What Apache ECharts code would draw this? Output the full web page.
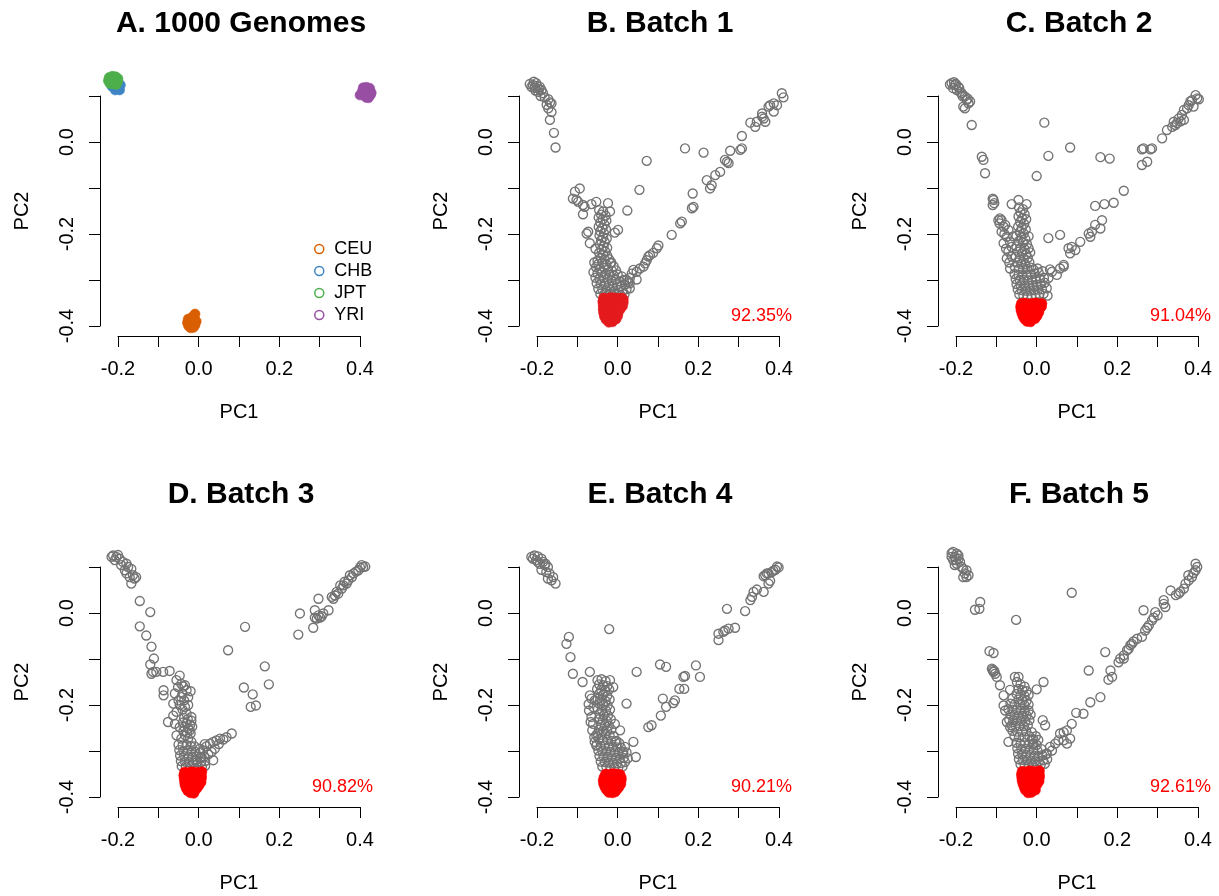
<!DOCTYPE html>
<html><head><meta charset="utf-8">
<script src="https://cdn.jsdelivr.net/npm/echarts@6/dist/echarts.min.js"></script>
<style>html,body{margin:0;padding:0;background:#fff}#chart{width:1219px;height:896px}</style>
</head><body><div id="chart"></div>
<script>
// ---------- texts ----------
const panelTitles = ['A. 1000 Genomes','B. Batch 1','C. Batch 2','D. Batch 3','E. Batch 4','F. Batch 5'];
const accuracyLabels = [null,'92.35%','91.04%','90.82%','90.21%','92.61%'];
const populations = ['CEU','CHB','JPT','YRI'];
const xAxisName = 'PC1';
const yAxisName = 'PC2';
const xLabelTicks = [-0.2, 0.0, 0.2, 0.4];
const yLabelTicks = [-0.4, -0.2, 0.0];

// ---------- panel A: 1000 Genomes ----------
const panelA_CEU = [[-0.026,-0.385],[-0.018,-0.383],[-0.010,-0.385],[-0.028,-0.393],[-0.020,-0.391],[-0.012,-0.392],[-0.006,-0.390],[-0.025,-0.400],[-0.017,-0.399],[-0.009,-0.398],[-0.020,-0.404],[-0.013,-0.403],[-0.009,-0.374],[-0.015,-0.380]];
const panelA_CHB = [[-0.214,0.128],[-0.206,0.125],[-0.199,0.121],[-0.210,0.119],[-0.202,0.116],[-0.196,0.113],[-0.207,0.113],[-0.215,0.121],[-0.194,0.124],[-0.218,0.133],[-0.200,0.130]];
const panelA_JPT = [[-0.222,0.140],[-0.214,0.143],[-0.206,0.142],[-0.200,0.138],[-0.224,0.133],[-0.216,0.135],[-0.208,0.134],[-0.201,0.131],[-0.220,0.127],[-0.212,0.126],[-0.204,0.125],[-0.217,0.131]];
const panelA_YRI = [[0.408,0.118],[0.416,0.119],[0.424,0.117],[0.406,0.111],[0.414,0.110],[0.422,0.111],[0.428,0.107],[0.410,0.104],[0.418,0.103],[0.426,0.102],[0.415,0.097],[0.421,0.096],[0.400,0.102]];

// ---------- Batch 1 ----------
const batch1Gray = [
[-0.210,0.124],[-0.202,0.128],[-0.214,0.120],[-0.206,0.118],[-0.193,0.120],[-0.189,0.113],[-0.197,0.109],[-0.185,0.106],[-0.191,0.100],[-0.181,0.097],[-0.172,0.093],[-0.168,0.086],[-0.176,0.081],[-0.164,0.084],[-0.172,0.073],[-0.164,0.065],[-0.168,0.048],[-0.158,0.020],[-0.154,-0.012],[-0.218,0.126],[-0.208,0.131],[-0.200,0.122],[-0.195,0.115],[-0.204,0.112],
[-0.106,-0.108],[-0.094,-0.101],[-0.111,-0.123],[-0.102,-0.126],[-0.098,-0.130],[-0.086,-0.137],[-0.082,-0.141],[-0.065,-0.135],[-0.053,-0.130],[-0.024,-0.133],[-0.086,-0.157],[-0.073,-0.195],[-0.077,-0.199],[-0.069,-0.220],
[-0.046,-0.148],[-0.036,-0.151],[-0.041,-0.158],[-0.030,-0.160],[-0.047,-0.164],[-0.037,-0.168],[-0.028,-0.171],[-0.043,-0.175],[-0.033,-0.179],[-0.047,-0.184],[-0.038,-0.187],[-0.029,-0.190],[-0.043,-0.194],[-0.034,-0.198],[-0.045,-0.203],[-0.036,-0.207],[-0.027,-0.210],[-0.041,-0.214],[-0.032,-0.218],[-0.044,-0.223],[-0.035,-0.227],[-0.026,-0.230],[-0.040,-0.234],[-0.031,-0.238],[-0.046,-0.241],[-0.036,-0.245],[-0.026,-0.247],[-0.042,-0.252],[-0.032,-0.255],[-0.021,-0.255],[-0.050,-0.258],
[-0.019,-0.151],[0.001,-0.191],[-0.007,-0.197],[-0.055,-0.232],[-0.016,-0.262],
[-0.058,-0.262],[-0.048,-0.265],[-0.038,-0.262],[-0.028,-0.266],[-0.018,-0.263],[-0.010,-0.270],[-0.054,-0.272],[-0.044,-0.275],[-0.034,-0.273],[-0.024,-0.277],[-0.014,-0.280],[-0.004,-0.279],[-0.060,-0.283],[-0.050,-0.285],[-0.040,-0.284],[-0.030,-0.287],[-0.020,-0.289],[-0.010,-0.290],[0.000,-0.288],[0.010,-0.292],[-0.055,-0.295],[-0.045,-0.297],[-0.035,-0.296],[-0.025,-0.299],[-0.015,-0.301],[-0.005,-0.300],[0.005,-0.303],[0.015,-0.300],[-0.052,-0.307],[-0.042,-0.308],[-0.032,-0.309],[-0.022,-0.311],[-0.012,-0.312],[-0.002,-0.311],[0.008,-0.313],[0.018,-0.310],[0.026,-0.305],[-0.048,-0.319],[-0.038,-0.320],[-0.028,-0.322],[-0.018,-0.322],[-0.008,-0.323],[0.002,-0.322],[0.012,-0.324],[0.022,-0.320],[0.030,-0.318],[-0.043,-0.330],[-0.033,-0.331],[-0.023,-0.332],[-0.013,-0.333],[-0.003,-0.332],[0.007,-0.333],[0.017,-0.331],
[0.407,0.106],[0.411,0.097],[0.387,0.084],[0.378,0.080],[0.374,0.077],[0.387,0.066],[0.358,0.062],[0.358,0.055],[0.362,0.051],[0.345,0.044],[0.341,0.033],[0.329,0.042],[0.308,0.013],[0.308,-0.014],[0.304,-0.017],[0.279,-0.019],[0.266,-0.039],[0.271,-0.043],[0.275,-0.046],[0.254,-0.065],[0.242,-0.072],[0.221,-0.083],[0.233,-0.094],[0.229,-0.101],[0.186,-0.112],[0.188,-0.141],[0.184,-0.144],[0.159,-0.173],[0.155,-0.177],[0.134,-0.202],[0.101,-0.225],[0.097,-0.231],[0.088,-0.241],[0.080,-0.246],[0.076,-0.249],[0.072,-0.257],[0.068,-0.264],[0.064,-0.271],[0.055,-0.275],[0.047,-0.282],[0.039,-0.278],[0.035,-0.286],[0.030,-0.296],[0.022,-0.300],[0.047,-0.299],[0.030,-0.307],[0.395,0.080],[0.366,0.044],
[0.167,-0.014],[0.213,-0.023],[0.072,-0.041],[0.054,-0.104],[0.024,-0.149]
];
const batch1Red = [
[-0.035,-0.339],[-0.026,-0.340],[-0.017,-0.338],[-0.008,-0.339],[0.001,-0.340],[0.010,-0.339],[0.014,-0.342],
[-0.037,-0.347],[-0.028,-0.346],[-0.019,-0.348],[-0.010,-0.347],[-0.001,-0.346],[0.008,-0.348],[0.014,-0.349],
[-0.036,-0.355],[-0.027,-0.356],[-0.018,-0.354],[-0.009,-0.355],[0.000,-0.356],[0.008,-0.354],[0.012,-0.357],
[-0.036,-0.363],[-0.027,-0.362],[-0.018,-0.364],[-0.009,-0.363],[0.000,-0.362],[0.006,-0.364],
[-0.035,-0.371],[-0.026,-0.372],[-0.017,-0.370],[-0.008,-0.371],[0.001,-0.372],
[-0.033,-0.379],[-0.024,-0.378],[-0.015,-0.380],[-0.006,-0.379],[0.000,-0.378],
[-0.029,-0.386],[-0.020,-0.387],[-0.011,-0.386],[-0.004,-0.385],
[-0.022,-0.392],[-0.013,-0.391]
];

// ---------- Batch 2 ----------
const batch2Gray = [
[-0.211,0.128],[-0.203,0.124],[-0.194,0.120],[-0.207,0.117],[-0.198,0.113],[-0.190,0.109],[-0.186,0.106],[-0.178,0.099],[-0.174,0.091],[-0.165,0.088],[-0.169,0.084],[-0.182,0.077],[-0.178,0.073],[-0.161,0.037],[-0.215,0.125],[-0.205,0.130],[-0.200,0.126],[-0.192,0.117],[-0.184,0.100],[-0.171,0.094],
[-0.136,-0.032],[-0.132,-0.039],[-0.128,-0.068],[-0.109,-0.123],[-0.107,-0.126],[-0.105,-0.133],[-0.109,-0.137],[-0.062,-0.135],[-0.045,-0.126],[-0.025,-0.135],
[-0.091,-0.166],[-0.087,-0.170],[-0.092,-0.177],[-0.082,-0.184],[-0.078,-0.180],[-0.087,-0.195],[-0.070,-0.191],[-0.074,-0.206],[-0.066,-0.217],[-0.082,-0.220],[-0.062,-0.228],[-0.070,-0.238],[-0.062,-0.249],[-0.074,-0.253],[-0.066,-0.275],[-0.095,-0.170],[-0.080,-0.200],[-0.058,-0.205],[-0.076,-0.232],[-0.068,-0.262],
[-0.044,-0.142],[-0.034,-0.146],[-0.040,-0.153],[-0.030,-0.157],[-0.045,-0.162],[-0.036,-0.166],[-0.026,-0.168],[-0.041,-0.174],[-0.031,-0.178],[-0.046,-0.184],[-0.037,-0.187],[-0.027,-0.190],[-0.042,-0.196],[-0.032,-0.199],[-0.050,-0.204],[-0.038,-0.208],[-0.028,-0.211],[-0.045,-0.216],[-0.034,-0.219],[-0.024,-0.222],[-0.050,-0.227],[-0.040,-0.230],[-0.030,-0.233],[-0.020,-0.231],[-0.046,-0.239],[-0.036,-0.242],[-0.026,-0.244],[-0.052,-0.250],[-0.042,-0.253],[-0.032,-0.255],[-0.022,-0.252],[-0.048,-0.262],[-0.038,-0.265],[-0.028,-0.266],[-0.018,-0.262],[-0.054,-0.272],[-0.044,-0.276],[-0.034,-0.277],[-0.024,-0.276],[-0.014,-0.273],[-0.016,-0.240],[-0.020,-0.205],
[-0.055,-0.287],[-0.045,-0.289],[-0.035,-0.288],[-0.025,-0.290],[-0.015,-0.288],[-0.005,-0.286],[0.005,-0.284],[0.015,-0.281],[-0.052,-0.298],[-0.042,-0.300],[-0.032,-0.300],[-0.022,-0.301],[-0.012,-0.300],[-0.002,-0.298],[0.008,-0.297],[0.018,-0.295],[-0.050,-0.309],[-0.040,-0.311],[-0.030,-0.312],[-0.020,-0.312],[-0.010,-0.311],[0.000,-0.310],[0.010,-0.309],[0.020,-0.306],[-0.047,-0.320],[-0.037,-0.322],[-0.027,-0.323],[-0.017,-0.323],[-0.007,-0.322],[0.003,-0.321],[0.013,-0.320],[0.025,-0.318],[-0.043,-0.331],[-0.033,-0.333],[-0.023,-0.334],[-0.013,-0.333],[-0.003,-0.332],[0.007,-0.331],[0.017,-0.330],[0.027,-0.334],[-0.008,-0.277],[0.002,-0.275],
[0.394,0.102],[0.398,0.095],[0.402,0.093],[0.381,0.088],[0.377,0.080],[0.389,0.077],[0.373,0.073],[0.365,0.070],[0.360,0.059],[0.352,0.051],[0.365,0.048],[0.348,0.041],[0.344,0.037],[0.336,0.033],[0.323,0.026],[0.311,0.008],[0.286,-0.014],[0.265,-0.014],[0.261,-0.016],[0.282,-0.016],[0.274,-0.043],[0.261,-0.050],[0.216,-0.106],[0.191,-0.132],[0.168,-0.135],[0.145,-0.139],[0.181,-0.036],[0.158,-0.033],[0.162,-0.170],[0.158,-0.188],[0.145,-0.180],[0.133,-0.206],[0.129,-0.199],[0.137,-0.195],[0.108,-0.217],[0.087,-0.228],[0.079,-0.231],[0.096,-0.235],[0.083,-0.242],[0.067,-0.267],[0.058,-0.275],[0.067,-0.271],[0.033,-0.277],[0.038,-0.282],[0.050,-0.289],[0.029,-0.296],[0.385,0.091],[0.357,0.045],[0.340,0.044],
[0.019,0.042],[0.029,-0.030],[0.083,-0.012],[0.000,-0.074],[0.058,-0.202],[0.029,-0.209]
];
const batch2Red = [
[-0.038,-0.351],[-0.029,-0.350],[-0.020,-0.352],[-0.011,-0.351],[-0.002,-0.350],[0.007,-0.352],[0.013,-0.351],
[-0.040,-0.358],[-0.031,-0.359],[-0.022,-0.357],[-0.013,-0.358],[-0.004,-0.359],[0.005,-0.357],[0.012,-0.358],
[-0.039,-0.365],[-0.030,-0.364],[-0.021,-0.366],[-0.012,-0.365],[-0.003,-0.364],[0.006,-0.366],
[-0.037,-0.372],[-0.028,-0.373],[-0.019,-0.371],[-0.010,-0.372],[-0.001,-0.373],[0.005,-0.371],
[-0.034,-0.379],[-0.025,-0.378],[-0.016,-0.380],[-0.007,-0.379],[0.001,-0.378],
[-0.030,-0.385],[-0.021,-0.386],[-0.012,-0.385],[-0.004,-0.384],
[-0.024,-0.390],[-0.015,-0.391]
];

// ---------- Batch 3 ----------
const batch3Gray = [
[-0.212,0.125],[-0.204,0.122],[-0.196,0.118],[-0.208,0.115],[-0.188,0.111],[-0.179,0.107],[-0.192,0.104],[-0.175,0.100],[-0.183,0.093],[-0.167,0.096],[-0.179,0.086],[-0.163,0.082],[-0.171,0.078],[-0.159,0.075],[-0.167,0.064],[-0.155,0.078],[-0.216,0.122],[-0.200,0.126],
[-0.146,0.026],[-0.120,0.002],[-0.146,-0.029],[-0.130,-0.049],[-0.117,-0.073],[-0.111,-0.099],[-0.120,-0.112],[-0.113,-0.128],[-0.117,-0.132],[-0.105,-0.128],[-0.088,-0.128],[-0.072,-0.126],[-0.087,-0.168],[-0.087,-0.179],[-0.076,-0.237],
[-0.047,-0.136],[-0.055,-0.146],[-0.043,-0.154],[-0.034,-0.157],[-0.051,-0.161],[-0.030,-0.168],[-0.059,-0.175],[-0.043,-0.183],[-0.026,-0.183],[-0.063,-0.197],[-0.047,-0.200],[-0.034,-0.204],[-0.055,-0.215],[-0.063,-0.223],[-0.030,-0.219],[-0.018,-0.226],[-0.059,-0.241],[-0.047,-0.248],[-0.022,-0.255],[-0.055,-0.266],[-0.043,-0.273],[-0.026,-0.273],[-0.018,-0.280],[-0.038,-0.160],[-0.040,-0.175],[-0.036,-0.190],[-0.050,-0.190],[-0.040,-0.210],[-0.026,-0.200],[-0.020,-0.170],
[-0.036,-0.228],[-0.027,-0.231],[-0.018,-0.234],[-0.039,-0.238],[-0.030,-0.240],[-0.021,-0.243],[-0.035,-0.248],[-0.026,-0.251],[-0.016,-0.247],[-0.038,-0.257],[-0.029,-0.260],[-0.020,-0.262],[-0.033,-0.266],
[0.003,-0.295],[0.011,-0.299],[0.019,-0.290],[0.028,-0.284],[0.036,-0.280],[0.044,-0.277],[0.053,-0.273],[0.061,-0.275],[0.069,-0.270],[0.082,-0.262],[0.040,-0.295],[0.032,-0.302],[0.024,-0.307],[0.007,-0.313],[0.036,-0.320],[-0.006,-0.320],[0.050,-0.285],[0.015,-0.285],
[-0.050,-0.286],[-0.040,-0.288],[-0.030,-0.287],[-0.020,-0.289],[-0.010,-0.290],[-0.048,-0.298],[-0.038,-0.300],[-0.028,-0.299],[-0.018,-0.301],[-0.008,-0.302],[0.002,-0.304],[-0.046,-0.310],[-0.036,-0.311],[-0.026,-0.312],[-0.016,-0.313],[-0.006,-0.312],[0.004,-0.314],[0.014,-0.312],[-0.044,-0.322],[-0.034,-0.323],[-0.024,-0.324],[-0.014,-0.325],[-0.004,-0.324],[0.006,-0.324],[0.016,-0.322],[-0.042,-0.333],[-0.032,-0.334],[-0.022,-0.335],[-0.012,-0.336],[-0.002,-0.335],[0.008,-0.334],[0.016,-0.332],
[0.404,0.104],[0.413,0.101],[0.408,0.100],[0.400,0.099],[0.396,0.093],[0.384,0.086],[0.375,0.082],[0.380,0.078],[0.371,0.071],[0.367,0.064],[0.359,0.060],[0.351,0.060],[0.355,0.053],[0.342,0.046],[0.338,0.038],[0.334,0.031],[0.346,0.042],[0.297,0.031],[0.288,0.006],[0.297,-0.005],[0.293,-0.012],[0.301,-0.010],[0.288,-0.010],[0.305,-0.007],[0.322,0.006],[0.309,-0.001],[0.284,-0.032],[0.251,-0.001],[0.247,-0.047],[0.390,0.090],[0.362,0.068],[0.330,0.035],
[0.115,-0.030],[0.073,-0.081],[0.164,-0.116],[0.174,-0.155],[0.112,-0.162],[0.134,-0.177],[0.129,-0.204],[0.142,-0.201]
];
const batch3Red = [
[-0.035,-0.346],[-0.026,-0.347],[-0.017,-0.345],[-0.008,-0.346],[0.001,-0.347],[0.008,-0.345],
[-0.037,-0.353],[-0.028,-0.352],[-0.019,-0.354],[-0.010,-0.353],[-0.001,-0.352],[0.007,-0.354],
[-0.036,-0.360],[-0.027,-0.361],[-0.018,-0.359],[-0.009,-0.360],[0.000,-0.361],[0.007,-0.359],
[-0.035,-0.367],[-0.026,-0.366],[-0.017,-0.368],[-0.008,-0.367],[0.001,-0.366],[0.006,-0.368],
[-0.034,-0.374],[-0.025,-0.375],[-0.016,-0.373],[-0.007,-0.374],[0.001,-0.375],
[-0.031,-0.381],[-0.022,-0.380],[-0.013,-0.382],[-0.004,-0.381],
[-0.027,-0.387],[-0.018,-0.388],[-0.009,-0.386],
[-0.020,-0.391],[-0.012,-0.392]
];

// ---------- Batch 4 ----------
const batch4Gray = [
[-0.214,0.122],[-0.206,0.125],[-0.198,0.123],[-0.210,0.118],[-0.202,0.115],[-0.189,0.118],[-0.185,0.111],[-0.193,0.107],[-0.181,0.104],[-0.173,0.100],[-0.189,0.094],[-0.177,0.089],[-0.169,0.086],[-0.160,0.078],[-0.173,0.075],[-0.164,0.071],[-0.154,0.064],[-0.179,0.107],[-0.198,0.111],
[-0.121,-0.052],[-0.127,-0.067],[-0.117,-0.096],[-0.111,-0.132],[-0.087,-0.150],[-0.069,-0.128],[-0.069,-0.179],[-0.065,-0.186],[-0.057,-0.190],[-0.071,-0.212],[-0.065,-0.226],[-0.061,-0.241],[-0.063,-0.255],[-0.053,-0.266],[-0.057,-0.280],[-0.053,-0.288],[-0.072,-0.198],[-0.060,-0.205],[-0.067,-0.237],[-0.058,-0.270],
[-0.050,-0.146],[-0.040,-0.144],[-0.030,-0.148],[-0.046,-0.155],[-0.036,-0.157],[-0.026,-0.159],[-0.051,-0.165],[-0.041,-0.167],[-0.031,-0.169],[-0.021,-0.166],[-0.046,-0.176],[-0.036,-0.178],[-0.026,-0.180],[-0.050,-0.187],[-0.040,-0.189],[-0.030,-0.191],[-0.020,-0.188],[-0.045,-0.198],[-0.035,-0.200],[-0.025,-0.201],[-0.049,-0.209],[-0.039,-0.211],[-0.029,-0.212],[-0.019,-0.210],[-0.044,-0.220],[-0.034,-0.222],[-0.024,-0.223],[-0.047,-0.231],[-0.037,-0.233],[-0.027,-0.234],[-0.017,-0.231],[-0.042,-0.243],[-0.032,-0.244],[-0.022,-0.245],[-0.046,-0.254],[-0.036,-0.256],[-0.026,-0.256],[-0.016,-0.253],
[-0.019,-0.146],[-0.011,-0.161],[-0.007,-0.241],[0.006,-0.255],[0.022,-0.197],[0.039,-0.280],[0.045,-0.313],[0.014,-0.302],[-0.003,-0.278],
[-0.050,-0.262],[-0.040,-0.265],[-0.030,-0.264],[-0.020,-0.266],[-0.010,-0.268],[-0.046,-0.275],[-0.036,-0.277],[-0.026,-0.276],[-0.016,-0.278],[-0.006,-0.280],[0.004,-0.283],[-0.052,-0.287],[-0.042,-0.289],[-0.032,-0.288],[-0.022,-0.290],[-0.012,-0.291],[-0.002,-0.292],[0.008,-0.293],[0.018,-0.291],[-0.048,-0.299],[-0.038,-0.300],[-0.028,-0.301],[-0.018,-0.302],[-0.008,-0.303],[0.002,-0.304],[0.012,-0.305],[0.022,-0.303],[-0.045,-0.311],[-0.035,-0.312],[-0.025,-0.313],[-0.015,-0.314],[-0.005,-0.315],[0.005,-0.316],[0.015,-0.315],[0.025,-0.316],[-0.042,-0.323],[-0.032,-0.324],[-0.022,-0.325],[-0.012,-0.326],[-0.002,-0.327],[0.008,-0.326],[0.018,-0.324],[-0.038,-0.334],[-0.028,-0.335],[-0.018,-0.336],[-0.008,-0.336],[0.002,-0.335],[0.012,-0.334],
[0.395,0.101],[0.399,0.099],[0.391,0.094],[0.382,0.089],[0.374,0.086],[0.366,0.082],[0.370,0.086],[0.362,0.080],[0.374,0.064],[0.362,0.046],[0.345,0.051],[0.337,0.046],[0.333,0.035],[0.329,0.028],[0.316,0.004],[0.271,0.009],[0.291,-0.032],[0.275,-0.034],[0.266,-0.038],[0.262,-0.041],[0.250,-0.045],[0.250,-0.059],[0.194,-0.114],[0.204,-0.139],[0.167,-0.137],[0.163,-0.139],[0.165,-0.165],[0.153,-0.165],[0.142,-0.190],[0.138,-0.196],[0.112,-0.186],[0.120,-0.204],[0.107,-0.223],[0.084,-0.244],[0.076,-0.248],[0.120,-0.117],[0.105,-0.112],[0.047,-0.128],[0.386,0.092],[0.378,0.070],
[-0.021,-0.035]
];
const batch4Red = [
[-0.030,-0.350],[-0.021,-0.351],[-0.012,-0.349],[-0.003,-0.350],[0.006,-0.351],
[-0.034,-0.357],[-0.025,-0.356],[-0.016,-0.358],[-0.007,-0.357],[0.002,-0.356],[0.009,-0.358],
[-0.036,-0.364],[-0.027,-0.365],[-0.018,-0.363],[-0.009,-0.364],[0.000,-0.365],[0.009,-0.363],
[-0.035,-0.371],[-0.026,-0.370],[-0.017,-0.372],[-0.008,-0.371],[0.001,-0.370],[0.008,-0.372],
[-0.032,-0.378],[-0.023,-0.379],[-0.014,-0.377],[-0.005,-0.378],[0.003,-0.379],
[-0.028,-0.384],[-0.019,-0.385],[-0.010,-0.383],[-0.002,-0.384],
[-0.022,-0.390],[-0.013,-0.391],[-0.006,-0.389]
];

// ---------- Batch 5 ----------
const batch5Gray = [
[-0.207,0.133],[-0.198,0.129],[-0.203,0.122],[-0.194,0.118],[-0.207,0.115],[-0.190,0.111],[-0.198,0.107],[-0.203,0.104],[-0.186,0.100],[-0.182,0.096],[-0.174,0.093],[-0.178,0.086],[-0.169,0.082],[-0.182,0.078],[-0.174,0.078],[-0.194,0.125],[-0.211,0.122],[-0.211,0.130],[-0.200,0.115],
[-0.140,0.024],[-0.153,0.007],[-0.142,0.009],[-0.117,-0.083],[-0.107,-0.087],[-0.111,-0.121],[-0.107,-0.128],[-0.103,-0.132],[-0.099,-0.139],[-0.091,-0.157],[-0.082,-0.179],[-0.082,-0.201],[-0.078,-0.212],[-0.074,-0.237],[-0.066,-0.248],[-0.070,-0.280],[-0.054,-0.139],[-0.045,-0.139],[-0.049,-0.150],[-0.066,-0.167],[-0.051,-0.015],[-0.109,-0.124],[-0.105,-0.126],
[-0.040,-0.155],[-0.030,-0.160],[-0.045,-0.165],[-0.035,-0.168],[-0.025,-0.170],[-0.050,-0.176],[-0.040,-0.178],[-0.030,-0.180],[-0.020,-0.178],[-0.060,-0.186],[-0.045,-0.188],[-0.035,-0.190],[-0.025,-0.191],[-0.065,-0.197],[-0.055,-0.199],[-0.040,-0.200],[-0.030,-0.201],[-0.020,-0.199],[-0.070,-0.209],[-0.060,-0.210],[-0.050,-0.211],[-0.040,-0.212],[-0.030,-0.213],[-0.020,-0.212],[-0.065,-0.221],[-0.055,-0.222],[-0.045,-0.223],[-0.035,-0.224],[-0.025,-0.223],[-0.015,-0.221],[-0.068,-0.232],[-0.058,-0.233],[-0.048,-0.234],[-0.038,-0.235],[-0.028,-0.235],[-0.018,-0.233],[-0.062,-0.244],[-0.052,-0.245],[-0.042,-0.246],[-0.032,-0.246],[-0.022,-0.244],[-0.060,-0.256],[-0.048,-0.258],[-0.036,-0.258],[-0.026,-0.257],[-0.012,-0.259],[-0.055,-0.268],[-0.044,-0.270],[-0.030,-0.270],[-0.018,-0.268],[-0.008,-0.275],
[0.017,-0.150],[0.000,-0.166],[0.015,-0.233],[0.021,-0.244],[-0.008,-0.284],
[-0.050,-0.282],[-0.040,-0.284],[-0.030,-0.283],[-0.020,-0.285],[-0.010,-0.286],[0.000,-0.287],[-0.048,-0.294],[-0.038,-0.296],[-0.028,-0.295],[-0.018,-0.297],[-0.008,-0.298],[0.002,-0.299],[0.012,-0.296],[-0.046,-0.306],[-0.036,-0.307],[-0.026,-0.308],[-0.016,-0.309],[-0.006,-0.310],[0.004,-0.311],[0.014,-0.309],[0.024,-0.306],[-0.044,-0.318],[-0.034,-0.319],[-0.024,-0.320],[-0.014,-0.321],[-0.004,-0.322],[0.006,-0.322],[0.016,-0.320],[0.026,-0.318],[-0.040,-0.329],[-0.030,-0.330],[-0.020,-0.331],[-0.010,-0.331],[0.000,-0.331],[0.010,-0.330],[0.020,-0.328],[-0.012,-0.275],[0.004,-0.276],[-0.002,-0.268],
[0.394,0.107],[0.398,0.100],[0.394,0.093],[0.389,0.087],[0.385,0.078],[0.377,0.071],[0.369,0.064],[0.365,0.053],[0.356,0.046],[0.352,0.042],[0.332,0.049],[0.315,0.028],[0.319,0.013],[0.315,0.020],[0.294,0.002],[0.290,-0.010],[0.286,-0.016],[0.278,-0.027],[0.269,-0.038],[0.265,0.006],[0.261,-0.052],[0.249,-0.056],[0.236,-0.067],[0.232,-0.070],[0.224,-0.081],[0.216,-0.092],[0.207,-0.099],[0.203,-0.107],[0.228,-0.078],[0.216,-0.099],[0.183,-0.125],[0.187,-0.139],[0.178,-0.145],[0.170,-0.085],[0.129,-0.125],[0.158,-0.183],[0.133,-0.194],[0.116,-0.219],[0.098,-0.217],[0.087,-0.241],[0.075,-0.255],[0.067,-0.259],[0.058,-0.262],[0.054,-0.277],[0.046,-0.284],[0.033,-0.291],[0.038,-0.299],[0.067,-0.277],[0.075,-0.284],[0.083,-0.273],[0.025,-0.306],[0.376,0.082],[0.345,0.039],[0.300,-0.005],[0.274,-0.032],[0.240,-0.062],
[0.087,0.044]
];
const batch5Red = [
[-0.036,-0.344],[-0.027,-0.345],[-0.018,-0.343],[-0.009,-0.344],[0.000,-0.345],[0.007,-0.343],
[-0.038,-0.351],[-0.029,-0.350],[-0.020,-0.352],[-0.011,-0.351],[-0.002,-0.350],[0.007,-0.352],
[-0.037,-0.358],[-0.028,-0.359],[-0.019,-0.357],[-0.010,-0.358],[-0.001,-0.359],[0.007,-0.357],
[-0.036,-0.365],[-0.027,-0.364],[-0.018,-0.366],[-0.009,-0.365],[0.000,-0.364],[0.006,-0.366],
[-0.034,-0.372],[-0.025,-0.373],[-0.016,-0.371],[-0.007,-0.372],[0.001,-0.373],
[-0.031,-0.379],[-0.022,-0.378],[-0.013,-0.380],[-0.004,-0.379],
[-0.028,-0.385],[-0.019,-0.386],[-0.010,-0.384],[-0.003,-0.385],
[-0.021,-0.391],[-0.013,-0.390]
];

// ---------- styling / layout ----------
const FONT = '"Liberation Sans", Arial, Helvetica, sans-serif';
const popColors = ['#D95F02','#3F84C4','#4DAF4A','#984EA3'];
const grayColor = '#737373';
const batchRed = ['#E41A1C','#FF0000','#FF0000','#FF0000','#FF0000'];
const colLeft = [118, 537, 956];
const rowTop = [96, 567];
const GW = 242, GH = 230;

const batchGray = [batch1Gray,batch2Gray,batch3Gray,batch4Gray,batch5Gray];
const batchRedPts = [batch1Red,batch2Red,batch3Red,batch4Red,batch5Red];
const popData = [panelA_CEU, panelA_CHB, panelA_JPT, panelA_YRI];

function fmt(list){
  return function(v){
    return list.some(t => Math.abs(t - v) < 1e-9) ? (Math.round(v*10)/10).toFixed(1) : '';
  };
}

const grids = [], xAxes = [], yAxes = [], series = [], graphics = [];
for (let i = 0; i < 6; i++) {
  const c = i % 3, r = Math.floor(i / 3);
  grids.push({left: colLeft[c], top: rowTop[r], width: GW, height: GH, outerBoundsMode: 'none', containLabel: false});
  xAxes.push({
    gridIndex: i, type: 'value', min: -0.2, max: 0.4, interval: 0.1, position: 'bottom', offset: 10,
    axisLine: {show: true, onZero: false, lineStyle: {color: '#000', width: 1}},
    axisTick: {show: true, length: 11, lineStyle: {color: '#000', width: 1}},
    axisLabel: {show: true, margin: 23, fontSize: 20, color: '#000', fontFamily: FONT, formatter: fmt(xLabelTicks), showMinLabel: true, showMaxLabel: true},
    splitLine: {show: false},
    name: xAxisName, nameLocation: 'middle', nameGap: 66,
    nameTextStyle: {fontSize: 20, color: '#000', fontFamily: FONT}
  });
  yAxes.push({
    gridIndex: i, type: 'value', min: -0.4, max: 0.1, interval: 0.1, position: 'left', offset: 18,
    axisLine: {show: true, onZero: false, lineStyle: {color: '#000', width: 1}},
    axisTick: {show: true, length: 11, lineStyle: {color: '#000', width: 1}},
    axisLabel: {show: true, rotate: 90, margin: 23, fontSize: 20, color: '#000', fontFamily: FONT, formatter: fmt(yLabelTicks), showMinLabel: true, showMaxLabel: true},
    splitLine: {show: false},
    name: yAxisName, nameLocation: 'middle', nameGap: 68,
    nameTextStyle: {fontSize: 20, color: '#000', fontFamily: FONT}
  });
  graphics.push({
    type: 'text', x: colLeft[c] + 123, y: rowTop[r] - 72, silent: true,
    style: {text: panelTitles[i], font: 'bold 30px ' + FONT, fill: '#000',
            textAlign: 'center', align: 'center', textVerticalAlign: 'middle', verticalAlign: 'middle'}
  });
  if (accuracyLabels[i]) {
    graphics.push({
      type: 'text', x: colLeft[c] + GW + 13, y: rowTop[r] + 220, silent: true,
      style: {text: accuracyLabels[i], font: '18px ' + FONT, fill: '#FF0000',
              textAlign: 'right', align: 'right', textVerticalAlign: 'middle', verticalAlign: 'middle'}
    });
  }
}

populations.forEach((p, k) => {
  series.push({
    name: p, type: 'scatter', xAxisIndex: 0, yAxisIndex: 0, clip: false, silent: true,
    symbol: 'circle', symbolSize: 10,
    itemStyle: {color: popColors[k], borderColor: popColors[k], borderWidth: 0.5, opacity: 1},
    emphasis: {disabled: true},
    data: popData[k]
  });
});
for (let b = 0; b < 5; b++) {
  series.push({
    name: 'batch' + (b+1) + '-other', type: 'scatter', xAxisIndex: b + 1, yAxisIndex: b + 1, clip: false, silent: true,
    symbol: 'circle', symbolSize: 9,
    itemStyle: {color: 'rgba(0,0,0,0)', borderColor: grayColor, borderWidth: 1.35, opacity: 1},
    emphasis: {disabled: true},
    data: batchGray[b]
  });
  series.push({
    name: 'batch' + (b+1) + '-match', type: 'scatter', xAxisIndex: b + 1, yAxisIndex: b + 1, clip: false, silent: true,
    symbol: 'circle', symbolSize: 10,
    itemStyle: {color: batchRed[b], borderColor: batchRed[b], borderWidth: 0.5, opacity: 1},
    emphasis: {disabled: true},
    data: batchRedPts[b]
  });
}

const chart = echarts.init(document.getElementById('chart'), null, {renderer: 'canvas'});
chart.setOption({
  backgroundColor: '#ffffff',
  animation: false,
  grid: grids, xAxis: xAxes, yAxis: yAxes, series: series,
  legend: {
    show: true, orient: 'vertical', left: 309, top: 235, itemWidth: 20, itemHeight: 9, itemGap: 4,
    selectedMode: false, icon: 'circle',
    textStyle: {fontSize: 18, color: '#000', fontFamily: FONT},
    data: populations.map((p, k) => ({name: p, icon: 'circle',
      itemStyle: {color: 'rgba(0,0,0,0)', borderColor: popColors[k], borderWidth: 1.5}}))
  },
  graphic: graphics
});
</script></body></html>
